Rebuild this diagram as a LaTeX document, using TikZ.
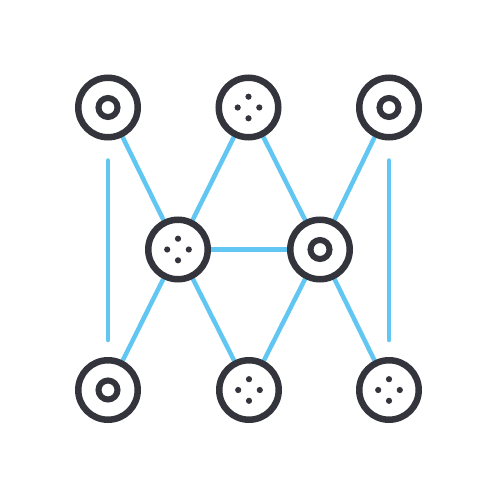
\documentclass[tikz,border=0pt]{standalone}
\usetikzlibrary{backgrounds}
\definecolor{ink}{HTML}{34343D}
\definecolor{sky}{HTML}{62C6F2}
\begin{document}
\begin{tikzpicture}[x=1pt,y=-1pt]
      \tikzstyle{vertex}=[draw=ink,circle,line width=6.5pt,minimum size=59.5pt,inner sep=0pt,fill=white]
      \tikzstyle{ring}=[vertex,path picture={\draw[ink,line width=6pt] (path picture bounding box.center) circle (9.5);}]
      \tikzstyle{dots}=[vertex,path picture={\foreach \a in {0,90,180,270} \fill[ink] (path picture bounding box.center) ++(\a:10.8) circle (3.1);}]
      \tikzstyle{edge}=[draw=sky,line width=4.5pt,line cap=round]
      \useasboundingbox (0,0) rectangle (500,500);
      \node[ring] (A) at (108,107.5) {};
      \node[dots] (B) at (248.5,107.5) {};
      \node[ring] (C) at (389,107.5) {};
      \node[dots] (D) at (178,249.5) {};
      \node[ring] (E) at (320,249.5) {};
      \node[ring] (F) at (108,390) {};
      \node[dots] (G) at (249,390) {};
      \node[dots] (H) at (389,390) {};
      \begin{pgfonlayer}{background}
      \path[edge] (A) -- (D);
      \path[edge] (B) -- (D);
      \path[edge] (B) -- (E);
      \path[edge] (C) -- (E);
      \path[edge] (D) -- (E);
      \path[edge] (D) -- (F);
      \path[edge] (D) -- (G);
      \path[edge] (E) -- (G);
      \path[edge] (E) -- (H);
      \path[edge,shorten <=20pt,shorten >=17pt] (A) -- (F);
      \path[edge,shorten <=20pt,shorten >=17pt] (C) -- (H);
      \end{pgfonlayer}
\end{tikzpicture}
\end{document}
